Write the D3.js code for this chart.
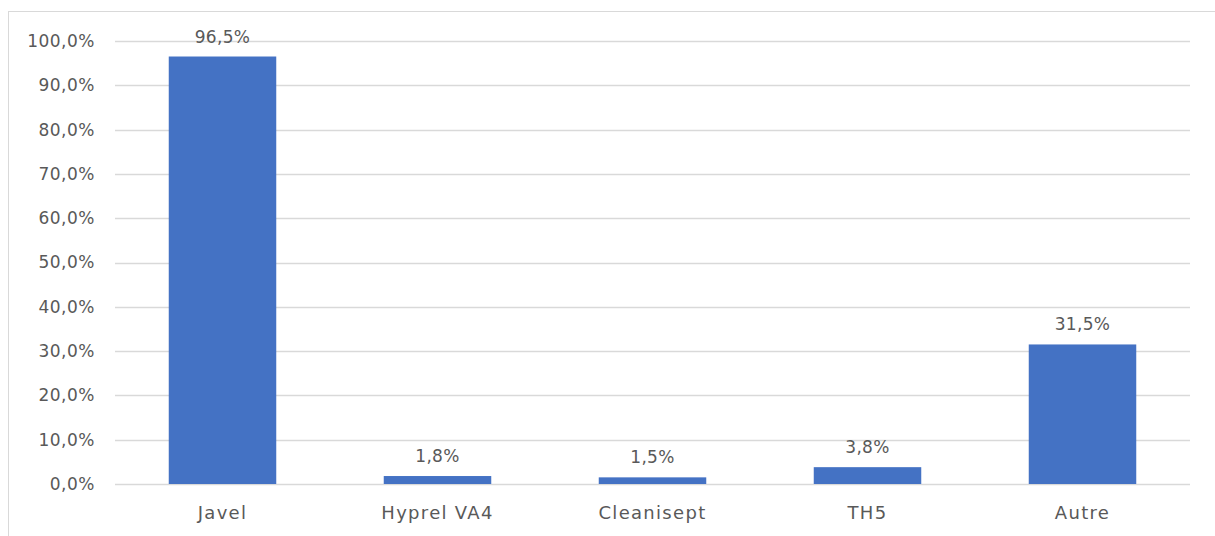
<!DOCTYPE html>
<html><head><meta charset="utf-8">
<script src="https://cdn.jsdelivr.net/npm/d3@7"></script>
<style>
html,body{margin:0;padding:0;background:#fff;}
svg text{font-family:"DejaVu Sans",sans-serif;fill:#595959;}
</style></head>
<body><svg id="c" width="1215" height="536"></svg>
<script>
const categories = ["Javel","Hyprel VA4","Cleanisept","TH5","Autre"];
const values = [96.5, 1.8, 1.5, 3.8, 31.5];
const yTicks = [0,10,20,30,40,50,60,70,80,90,100];

const svg = d3.select("#c");
const W = 1215, H = 536;
const plot = {left:115, right:1190, top:41, bottom:484};

// chart area border
svg.append("rect").attr("x",8.5).attr("y",11.5).attr("width",W).attr("height",H)
  .attr("fill","none").attr("stroke","#d9d9d9").attr("stroke-width",1);

const x = d3.scaleBand().domain(categories).range([plot.left, plot.right])
  .paddingInner(0.5).paddingOuter(0.25);
const y = d3.scaleLinear().domain([0,100]).range([plot.bottom, plot.top]);
const fmt = v => d3.format(".1f")(v).replace(".", ",") + "%";

// gridlines
svg.append("g").selectAll("line").data(yTicks).join("line")
  .attr("x1",plot.left).attr("x2",plot.right)
  .attr("y1",d=>Math.round(y(d))+0.5).attr("y2",d=>Math.round(y(d))+0.5)
  .attr("stroke","#d9d9d9").attr("stroke-width",1.5);

// y axis labels
const yAxis = d3.axisLeft(y).tickValues(yTicks).tickFormat(fmt).tickSize(0).tickPadding(0);
const ya = svg.append("g").attr("transform",`translate(95,0)`).call(yAxis);
ya.select(".domain").remove();
ya.selectAll("text").attr("font-size",17).attr("fill","#595959")
  .style("font-family","DejaVu Sans").style("letter-spacing","0.5px");

// bars
svg.append("g").selectAll("rect").data(values).join("rect")
  .attr("x",(d,i)=>x(categories[i])).attr("width",x.bandwidth())
  .attr("y",d=>y(d)).attr("height",d=>y(0)-y(d))
  .attr("fill","#4472c4");

// value labels
svg.append("g").selectAll("text").data(values).join("text")
  .attr("x",(d,i)=>x(categories[i])+x.bandwidth()/2)
  .attr("y",d=>y(d)-14)
  .attr("text-anchor","middle").attr("font-size",17)
  .style("letter-spacing","0.3px")
  .text(fmt);

// x axis labels
const xAxis = d3.axisBottom(x).tickSize(0).tickPadding(0);
const xa = svg.append("g").attr("transform",`translate(0,${plot.bottom+22})`).call(xAxis);
xa.select(".domain").remove();
xa.selectAll("text").attr("font-size",18).attr("fill","#595959")
  .style("font-family","DejaVu Sans").style("letter-spacing","1.3px");
</script></body></html>
